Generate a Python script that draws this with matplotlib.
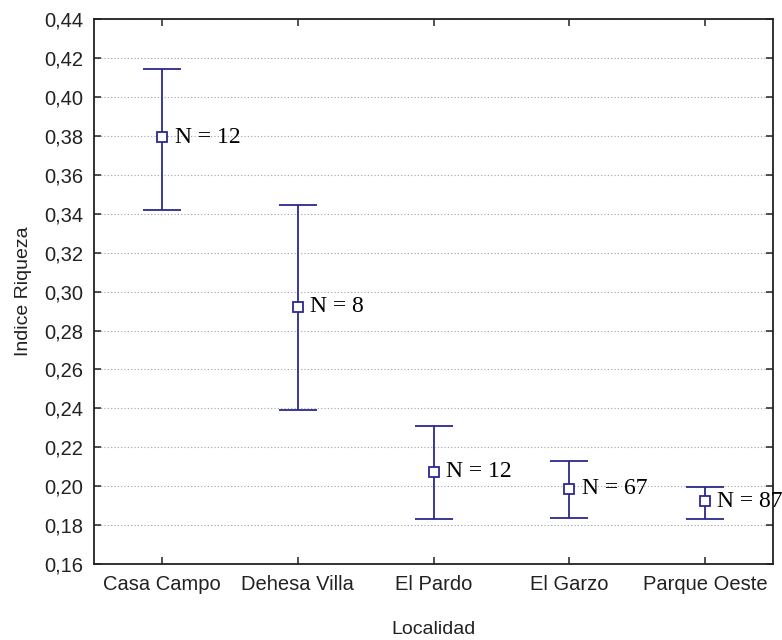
import matplotlib
matplotlib.use('Agg')
import matplotlib.pyplot as plt
from matplotlib.ticker import FuncFormatter

localidades = ['Casa Campo', 'Dehesa Villa', 'El Pardo', 'El Garzo', 'Parque Oeste']
media = [0.3792, 0.2923, 0.2075, 0.1988, 0.1923]
sup = [0.4144, 0.3442, 0.2312, 0.2128, 0.1998]
inf = [0.3417, 0.2391, 0.1830, 0.1840, 0.1830]
n = [12, 8, 12, 67, 87]

azul = '#2a2a8e'

fig = plt.figure(figsize=(7.82, 6.4), dpi=100)
ax = fig.add_axes([0.1206, 0.1183, 0.8675, 0.8523])

x = list(range(len(localidades)))
err_low = [m - i for m, i in zip(media, inf)]
err_high = [s - m for m, s in zip(media, sup)]
ax.errorbar(x, media, yerr=[err_low, err_high], fmt='s', color=azul,
            ecolor=azul, elinewidth=1.3, capsize=14, capthick=1.3,
            markersize=6.5, markerfacecolor='white', markeredgecolor=azul,
            markeredgewidth=1.3, zorder=3)

for xi, m, k in zip(x, media, n):
    ax.annotate('N = %d' % k, (xi, m), xytext=(9, 0), textcoords='offset points',
                va='center', ha='left', fontsize=17, family='Liberation Serif',
                color='black', annotation_clip=False, zorder=4)

ax.set_xlim(-0.5, len(localidades) - 0.5)
ax.set_ylim(0.16, 0.44)
ax.set_xticks(x)
ax.set_xticklabels(localidades)
ax.set_yticks([0.16 + 0.02 * i for i in range(15)])
ax.yaxis.set_major_formatter(FuncFormatter(lambda v, p: ('%.2f' % v).replace('.', ',')))

ax.grid(axis='y', linestyle=(0, (1, 2)), color='#a0a0a0', linewidth=0.8)
ax.set_axisbelow(True)
ax.tick_params(direction='in', length=5, width=1.1, color='#222222',
               top=True, right=True, labelsize=14.5, pad=8,
               labelcolor='#222222')
for s in ax.spines.values():
    s.set_color('#222222')
    s.set_linewidth(1.3)

for lab in ax.get_xticklabels() + ax.get_yticklabels():
    lab.set_family('Liberation Sans')

ax.set_xlabel('Localidad', fontsize=14, family='Liberation Sans', labelpad=19, color='#222222')
ax.set_ylabel('Indice Riqueza', fontsize=14, family='Liberation Sans', labelpad=9, color='#222222')

fig.savefig('out.png', dpi=100)
